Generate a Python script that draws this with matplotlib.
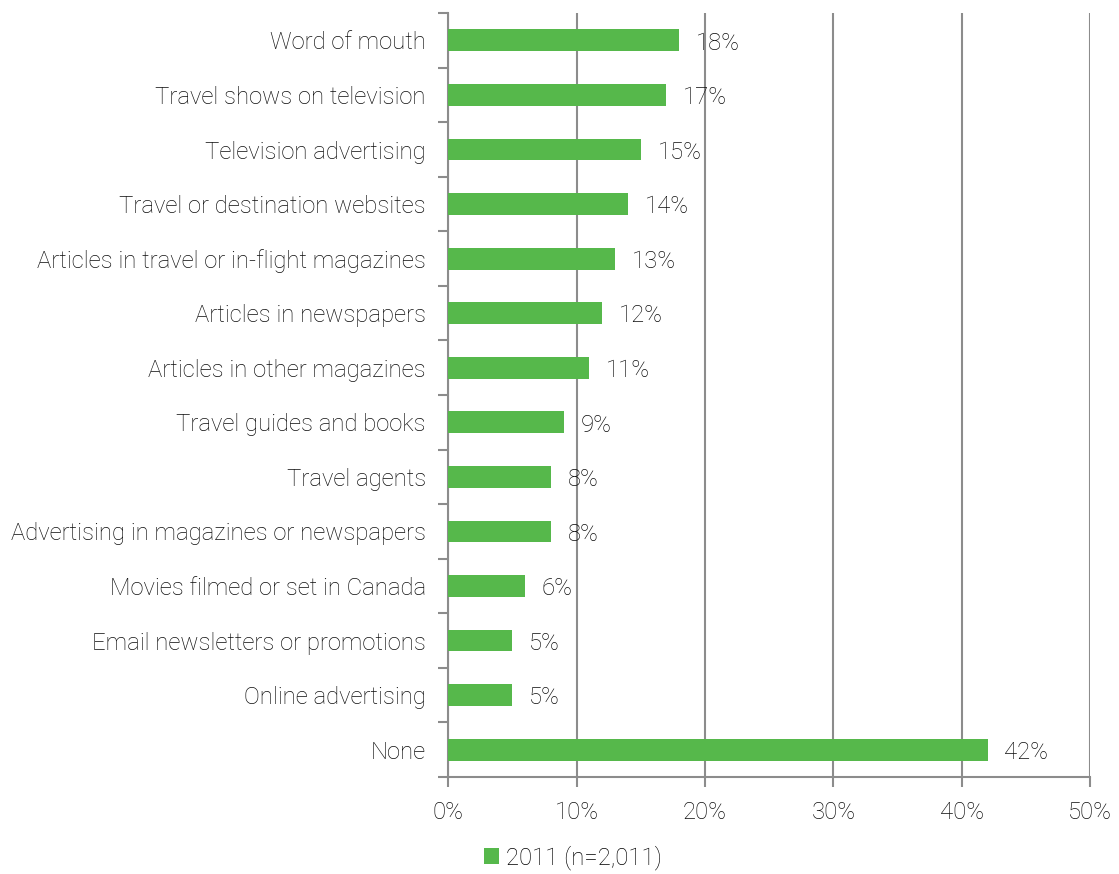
import matplotlib.pyplot as plt

categories = ['Word of mouth', 'Travel shows on television', 'Television advertising',
              'Travel or destination websites', 'Articles in travel or in-flight magazines',
              'Articles in newspapers', 'Articles in other magazines', 'Travel guides and books',
              'Travel agents', 'Advertising in magazines or newspapers',
              'Movies filmed or set in Canada', 'Email newsletters or promotions',
              'Online advertising', 'None']
values = [18, 17, 15, 14, 13, 12, 11, 9, 8, 8, 6, 5, 5, 42]
xticks = [0, 10, 20, 30, 40, 50]
series_label = '2011 (n=2,011)'

plt.rcParams['font.family'] = ['Roboto', 'DejaVu Sans']
plt.rcParams['font.weight'] = 'light'
fs = 17.2
txt = '#0d0d0d'
green = '#56b84b'
grid = '#8c8c8c'

fig = plt.figure(figsize=(11.19, 8.74), dpi=100)
ax = fig.add_axes([0.4004, 0.111, 0.574, 0.874])

pos = list(range(len(categories)))
ax.barh(pos, values, height=0.4, color=green, label=series_label, zorder=3)
for p, v in zip(pos, values):
    ax.text(v + 1.3, p + 0.05, f'{v}%', va='center', ha='left', fontsize=fs, color=txt)

ax.set_ylim(len(categories) - 0.5, -0.5)
ax.set_xlim(0, 50)
ax.set_xticks(xticks)
ax.set_xticklabels([f'{t}%' for t in xticks], fontsize=fs, color=txt)
ax.set_yticks(pos)
ax.set_yticklabels(categories, fontsize=fs, color=txt)
ax.tick_params(axis='y', which='major', length=0, pad=16)
ax.set_yticks([p - 0.5 for p in pos] + [len(categories) - 0.5], minor=True)
ax.tick_params(axis='y', which='minor', length=7, width=1.5, color=grid)
ax.tick_params(axis='x', length=7, width=1.5, color=grid, pad=10)

ax.grid(axis='x', color=grid, linewidth=1.5, zorder=0)
for s in ['top', 'right']:
    ax.spines[s].set_visible(False)
for s in ['left', 'bottom']:
    ax.spines[s].set_color(grid)
    ax.spines[s].set_linewidth(1.5)

fig.legend(loc='lower center', bbox_to_anchor=(0.512, -0.02), frameon=False,
           fontsize=fs, handlelength=0.65, handleheight=0.65, handletextpad=0.3)

fig.savefig('out.png', dpi=100)
